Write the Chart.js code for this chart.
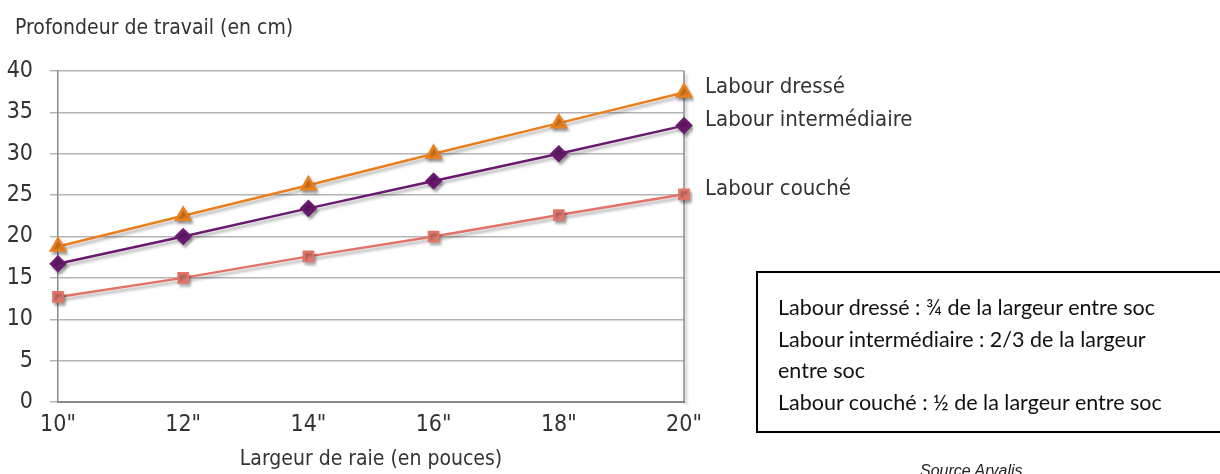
<!DOCTYPE html>
<html lang="fr">
<head>
<meta charset="utf-8">
<script src="https://cdn.jsdelivr.net/npm/chart.js@4.4.1/dist/chart.umd.min.js"></script>
<style>
    html, body { margin: 0; padding: 0; background: #fff; }
    #wrap { position: relative; width: 1220px; height: 474px; overflow: hidden; }
    #chart { position: absolute; left: 0; top: 0; }
    .title {
        position: absolute; left: 15px; top: 15px;
        font-family: 'Liberation Sans Narrow', 'DejaVu Sans Condensed', sans-serif;
        font-size: 21px; color: #333;
    }
    .note {
        position: absolute; left: 756px; top: 271px; width: 470px; height: 162px;
        border: 2px solid #000; box-sizing: border-box;
        padding: 19px 0 0 20px;
        font-family: Lato, 'Open Sans', sans-serif; font-size: 21.5px; line-height: 31.5px; color: #111;
    }
    .source {
        position: absolute; left: 920px; top: 462px;
        font-family: 'Liberation Sans', Arial, sans-serif; font-style: italic; font-size: 16px; color: #222;
    }
</style>
</head>
<body>
<div id="wrap">
    <canvas id="chart" width="1220" height="474"></canvas>
    <div class="title">Profondeur de travail (en cm)</div>
    <div class="note">
        Labour dressé : ¾ de la largeur entre soc<br>
        Labour intermédiaire : 2/3 de la largeur<br>
        entre soc<br>
        Labour couché : ½ de la largeur entre soc
    </div>
    <div class="source">Source Arvalis</div>
</div>
<script>
// Data
const widths = ['10"', '12"', '14"', '16"', '18"', '20"'];
const dresse = [18.8, 22.5, 26.2, 30, 33.7, 37.4];
const intermediaire = [16.7, 20, 23.4, 26.7, 30, 33.4];
const couche = [12.7, 15, 17.6, 20, 22.6, 25.1];
const seriesNames = ['Labour dressé', 'Labour intermédiaire', 'Labour couché'];
const yTicks = [0, 5, 10, 15, 20, 25, 30, 35, 40];

const narrow = "'Liberation Sans Narrow', 'DejaVu Sans Condensed', sans-serif";

// soft drop shadow under the lines, like the original figure
const shadowPlugin = {
    id: 'lineShadow',
    beforeDatasetsDraw(chart) {
        const ctx = chart.ctx;
        ctx.save();
        ctx.shadowColor = 'rgba(0,0,0,0.3)';
        ctx.shadowBlur = 3;
        ctx.shadowOffsetX = 2;
        ctx.shadowOffsetY = 3;
    },
    afterDatasetsDraw(chart) {
        chart.ctx.restore();
    }
};

// right border of the plot + series names next to the last point
const framePlugin = {
    id: 'frameAndNames',
    beforeDatasetsDraw(chart) {
        const { ctx, chartArea } = chart;
        ctx.save();
        ctx.strokeStyle = '#8a8a8a';
        ctx.lineWidth = 1.5;
        ctx.beginPath();
        ctx.moveTo(chartArea.right, chartArea.top);
        ctx.lineTo(chartArea.right, chartArea.bottom);
        ctx.stroke();
        ctx.restore();
    },
    afterDraw(chart) {
        const ctx = chart.ctx;
        ctx.save();
        ctx.font = '22px ' + narrow;
        ctx.fillStyle = '#333';
        ctx.textBaseline = 'middle';
        ctx.textAlign = 'left';
        chart.data.datasets.forEach((ds, i) => {
            const meta = chart.getDatasetMeta(i);
            const last = meta.data[meta.data.length - 1];
            ctx.fillText(seriesNames[i], last.x + 21, last.y - 5);
        });
        ctx.restore();
    }
};

new Chart(document.getElementById('chart'), {
    type: 'line',
    data: {
        labels: widths,
        datasets: [
            {
                label: seriesNames[0],
                data: dresse,
                borderColor: '#E8801F',
                backgroundColor: '#E8801F',
                borderWidth: 2.5,
                pointStyle: 'triangle',
                pointRadius: 8,
                tension: 0
            },
            {
                label: seriesNames[1],
                data: intermediaire,
                borderColor: '#6A1A6E',
                backgroundColor: '#6A1A6E',
                borderWidth: 2.5,
                pointStyle: 'rectRot',
                pointRadius: 7,
                tension: 0
            },
            {
                label: seriesNames[2],
                data: couche,
                borderColor: '#E27366',
                backgroundColor: '#E07A72',
                borderWidth: 2.5,
                pointStyle: 'rect',
                pointRadius: 6.5,
                tension: 0
            }
        ]
    },
    options: {
        responsive: false,
        animation: false,
        devicePixelRatio: 1,
        layout: { padding: { left: 0, right: 536, top: 71, bottom: 0 } },
        plugins: {
            legend: { display: false },
            tooltip: { enabled: false }
        },
        scales: {
            x: {
                offset: false,
                grid: { display: false, drawTicks: true, tickLength: 7, tickColor: '#8a8a8a' },
                border: { color: '#8a8a8a', width: 2 },
                ticks: { color: '#333', padding: 2, font: { family: narrow, size: 23 } },
                title: {
                    display: true,
                    text: 'Largeur de raie (en pouces)',
                    color: '#333',
                    font: { family: narrow, size: 21 },
                    padding: { top: 0, bottom: 2 }
                },
                afterFit: (scale) => { scale.height = 72; }
            },
            y: {
                min: 0,
                max: 40,
                afterBuildTicks: (scale) => { scale.ticks = yTicks.map(v => ({ value: v })); },
                grid: { color: '#b4b4b4', lineWidth: 1.5, tickLength: 8, tickColor: '#b4b4b4' },
                border: { color: '#8a8a8a', width: 1.5 },
                ticks: { color: '#333', padding: 17, font: { family: narrow, size: 23 } },
                afterFit: (scale) => { scale.width = 58; }
            }
        }
    },
    plugins: [shadowPlugin, framePlugin]
});
</script>
</body>
</html>
